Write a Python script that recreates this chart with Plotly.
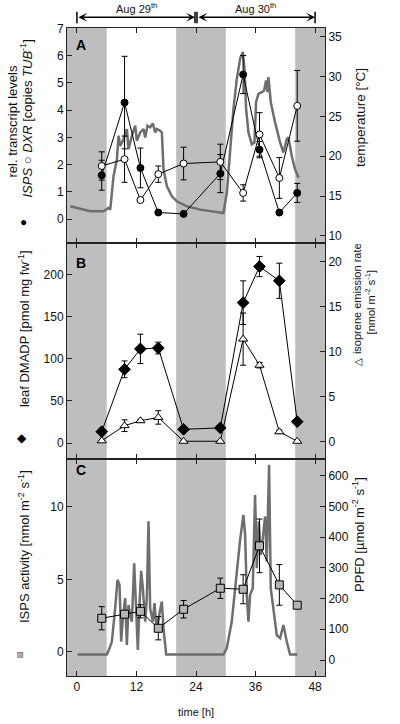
import plotly.graph_objects as go

# ---------------- data ----------------
t_samp = [5.0, 9.6, 12.8, 16.4, 21.5, 28.9, 33.5, 36.8, 40.8, 44.4]

isps_tr = [1.61, 4.28, 1.88, 0.24, 0.19, 1.67, 5.31, 2.55, 0.24, 0.96]
isps_tr_err = [0.55, 1.7, 0.73, 0, 0, 0.7, 0.7, 0.3, 0, 0.35]
dxr_tr = [1.95, 2.2, 0.70, 1.65, 2.04, 2.1, 0.96, 3.11, 1.51, 4.16]
dxr_tr_err = [0.52, 0.85, 0, 0.3, 0.6, 0.65, 0.3, 0.8, 0.75, 1.3]

temp_t = [-1.35, 0.66, 2.68, 5.36, 6.37, 6.71, 7.38, 8.06, 8.39, 8.72, 9.39, 10.07,
          10.4, 11.07, 11.75, 12.08, 12.75, 13.42, 13.76, 14.22, 14.76, 15.3, 15.77,
          16.1, 16.78, 17.12, 17.45, 18.13, 19.13, 20.14, 22.16, 24.84, 27.52, 29.53,
          30.21, 30.88, 31.55, 32.23, 32.9, 33.44, 33.77, 34.1, 34.57, 35.25, 35.78,
          36.11, 36.58, 37.26, 37.73, 38.13, 38.4, 38.6, 39.07, 39.94, 40.95, 41.62,
          42.3, 42.63, 43.3, 43.97, 44.65]
temp_v = [13.71, 13.37, 13.08, 13.08, 13.5, 13.29, 17.5, 19.61, 22.56, 21.3, 22.14, 23.41,
          20.88, 22.56, 23.83, 21.93, 22.98, 23.41, 22.35, 23.83, 23.62, 24.12, 22.98,
          23.41, 23.2, 22.98, 18.35, 16.24, 14.97, 14.34, 13.71, 13.29, 13.04, 12.87,
          15.4, 20.46, 25.94, 29.73, 32.26, 33.1, 31.0, 25.94, 22.98, 21.51, 21.72,
          26.78, 27.83, 28.04, 28.25, 29.52, 28.04, 29.94, 26.78, 24.25, 21.72, 20.46,
          22.14, 22.35, 20.03, 18.35, 17.29]

dmadp = [13.5, 87.7, 112, 113, 16.3, 18, 167, 210, 193, 25.4]
dmadp_err = [0, 10, 17.5, 7, 0, 0, 26, 12, 21, 0]
isoprene = [0.1, 1.78, 2.33, 2.7, 0.05, 0.05, 11.4, 8.5, 1.1, 0.05]
isoprene_err = [0, 0.65, 0.15, 0.75, 0, 0, 2.9, 0.3, 0.2, 0]

isps_act = [2.32, 2.6, 2.8, 1.63, 2.94, 4.39, 4.32, 7.31, 4.62, 3.22]
isps_act_err = [0.8, 0.2, 0.45, 0.8, 0.6, 0.7, 1.0, 1.85, 1.4, 0.15]

ppfd_t = [0.13, 6.04, 6.57, 7.04, 7.71, 8.18, 8.59, 8.92, 9.26, 9.73, 10.06, 10.4, 10.74,
          11.07, 11.54, 11.94, 12.28, 12.61, 12.95, 13.29, 13.76, 14.09, 14.43, 14.76,
          15.3, 15.64, 16.1, 16.64, 17.11, 17.45, 17.99, 29.53, 30.2, 31.21, 32.22, 32.89,
          33.56, 33.9, 34.23, 34.57, 34.9, 35.44, 35.91, 36.25, 36.65, 37.05, 37.46, 37.93,
          38.26, 38.73, 39.07, 39.6, 40.28, 40.95, 41.62, 42.29, 42.96, 44.44]
ppfd_v = [18, 18, 38, 60, 168, 261, 244, 60, 136, 201, 49, 179, 147,
          125, 315, 179, 33, 179, 290, 233, 125, 201, 451, 168,
          125, 185, 92, 152, 190, 103, 18, 18, 38, 125, 299, 391,
          472, 407, 212, 125, 212, 233, 537, 299, 451, 342, 396, 467,
          320, 635, 233, 168, 81, 71, 114, 60, 18, 18]

night_bands = [(-3, 6), (20, 30), (44, 52)]
x_ticks = [0, 12, 24, 36, 48]

# ---------------- styling ----------------
FONT = "Liberation Sans, Arial, sans-serif"
AX = "#222222"
BAND = "#bebebe"
LINEGRAY = "#6e6e6e"
dA, dB, dC = [0.6682, 1.0], [0.3349, 0.6682], [0.0, 0.3349]

fig = go.Figure()

eb = lambda arr: dict(type="data", array=arr, visible=True, color="black", thickness=1, width=3)

# Panel A
fig.add_trace(go.Scatter(x=temp_t, y=temp_v, xaxis="x", yaxis="y", mode="lines",
                         line=dict(color=LINEGRAY, width=2.5), showlegend=False))
fig.add_trace(go.Scatter(x=t_samp, y=isps_tr, xaxis="x", yaxis="y2", mode="lines+markers",
                         line=dict(color="black", width=1),
                         marker=dict(symbol="circle", size=7, color="black",
                                     line=dict(color="black", width=1)),
                         error_y=eb(isps_tr_err), showlegend=False))
fig.add_trace(go.Scatter(x=t_samp, y=dxr_tr, xaxis="x", yaxis="y2", mode="lines+markers",
                         line=dict(color="black", width=1),
                         marker=dict(symbol="circle", size=7, color="white",
                                     line=dict(color="black", width=1)),
                         error_y=eb(dxr_tr_err), showlegend=False))
# Panel B
fig.add_trace(go.Scatter(x=t_samp, y=dmadp, xaxis="x2", yaxis="y3", mode="lines+markers",
                         line=dict(color="black", width=1),
                         marker=dict(symbol="diamond", size=9, color="black",
                                     line=dict(color="black", width=1)),
                         error_y=eb(dmadp_err), showlegend=False))
fig.add_trace(go.Scatter(x=t_samp, y=isoprene, xaxis="x2", yaxis="y4", mode="lines+markers",
                         line=dict(color="black", width=1),
                         marker=dict(symbol="triangle-up", size=8, color="white",
                                     line=dict(color="black", width=1)),
                         error_y=eb(isoprene_err), showlegend=False))
# Panel C
fig.add_trace(go.Scatter(x=ppfd_t, y=ppfd_v, xaxis="x3", yaxis="y5", mode="lines",
                         line=dict(color=LINEGRAY, width=2.5), showlegend=False))
fig.add_trace(go.Scatter(x=t_samp, y=isps_act, xaxis="x3", yaxis="y6", mode="lines+markers",
                         line=dict(color="black", width=1),
                         marker=dict(symbol="square", size=8, color="#b4b4b4",
                                     line=dict(color="black", width=1)),
                         error_y=eb(isps_act_err), showlegend=False))

common = dict(showline=True, linecolor=AX, linewidth=1, ticks="inside", ticklen=5,
              tickcolor=AX, tickwidth=1, showgrid=False, zeroline=False,
              tickfont=dict(size=12, color="#111111", family=FONT))
xcommon = dict(common, range=[-2, 50], tickvals=x_ticks, mirror="ticks", domain=[0, 1])

fig.update_layout(
    width=400, height=724,
    margin=dict(l=67, r=75, t=28, b=48),
    paper_bgcolor="white", plot_bgcolor="white",
    font=dict(family=FONT, size=12, color="#111111"),
    xaxis=dict(xcommon, anchor="y", showticklabels=False),
    xaxis2=dict(xcommon, anchor="y3", showticklabels=False),
    xaxis3=dict(xcommon, anchor="y5", showticklabels=True),
    yaxis=dict(common, domain=dA, anchor="x", side="right", range=[9.1, 36.1],
               tickvals=[10, 15, 20, 25, 30, 35]),
    yaxis2=dict(common, anchor="x", overlaying="y", side="left", range=[-0.88, 7.02],
                tickvals=[0, 1, 2, 3, 4, 5, 6, 7]),
    yaxis3=dict(common, domain=dB, anchor="x2", side="left", range=[-19, 238],
                tickvals=[0, 50, 100, 150, 200]),
    yaxis4=dict(common, anchor="x2", overlaying="y3", side="right", range=[-1.92, 22.08],
                tickvals=[0, 5, 10, 15, 20]),
    yaxis5=dict(common, domain=dC, anchor="x3", side="right", range=[-52, 654],
                tickvals=[0, 100, 200, 300, 400, 500, 600]),
    yaxis6=dict(common, anchor="x3", overlaying="y5", side="left", range=[-1.66, 13.3],
                tickvals=[0, 5, 10]),
)

shapes = []
for xr, yr in [("x", "y domain"), ("x2", "y3 domain"), ("x3", "y5 domain")]:
    for a, b in night_bands:
        shapes.append(dict(type="rect", xref=xr, yref=yr, x0=a, x1=b, y0=0, y1=1,
                           fillcolor=BAND, line=dict(width=0), layer="below"))
# header bars
for xb in [0, 23.8, 24.2, 48]:
    shapes.append(dict(type="line", xref="x", yref="paper", x0=xb, x1=xb,
                       y0=1.0073, y1=1.0252, line=dict(color="black", width=1.5)))
fig.update_layout(shapes=shapes)

ann = []
# header arrows
for a, b in [(0, 23.8), (24.2, 48)]:
    ann.append(dict(x=b, y=1.0165, xref="x", yref="paper", ax=a, ay=0, axref="x",
                    ayref="pixel", text="", showarrow=True, arrowhead=3, arrowside="end+start",
                    arrowsize=1, arrowwidth=1.5, arrowcolor="black", standoff=0, startstandoff=0))
ann.append(dict(x=12, y=1.0316, xref="x", yref="paper", text="Aug 29<sup>th</sup>",
                showarrow=False, font=dict(size=11), yanchor="middle"))
ann.append(dict(x=36, y=1.0316, xref="x", yref="paper", text="Aug 30<sup>th</sup>",
                showarrow=False, font=dict(size=11), yanchor="middle"))
# panel letters
for letter, yr, yv in [("A", "y domain", 0.921), ("B", "y3 domain", 0.906), ("C", "y5 domain", 0.949)]:
    ann.append(dict(x=-0.5, y=yv, xref="x", yref=yr, text="<b>%s</b>" % letter,
                    showarrow=False, xanchor="left", yanchor="middle", font=dict(size=14, color="black")))


def vtitle(x, y, yref, text, size=13):
    ann.append(dict(x=x, y=y, xref="paper", yref=yref, textangle=-90, text=text,
                    showarrow=False, xanchor="center", yanchor="middle", font=dict(size=size)))


def sym(x, y, yref, text, size, color="black", angle=0):
    ann.append(dict(x=x, y=y, xref="paper", yref=yref, text=text, textangle=angle,
                    showarrow=False, xanchor="center", yanchor="middle",
                    font=dict(size=size, color=color)))


# left titles
vtitle(-0.2093, 0.565, "y domain", "rel. transcript levels")
vtitle(-0.1589, 0.579, "y domain",
       "<i>ISPS</i> \u25cb <i>DXR</i> [copies <i>TUB</i><sup>-1</sup>]")
sym(-0.1667, 0.098, "y domain", "\u25cf", 12)
vtitle(-0.1667, 0.606, "y3 domain", "leaf DMADP [pmol mg fw<sup>-1</sup>]")
sym(-0.174, 0.097, "y3 domain", "\u25c6", 12)
vtitle(-0.1667, 0.599, "y5 domain", "ISPS activity [nmol m<sup>-2</sup> s<sup>-1</sup>]")
sym(-0.182, 0.097, "y5 domain", "\u25a0", 10, "#a8a8a8")
sym(-0.182, 0.097, "y5 domain", "\u25a1", 10, "#333333")
# right titles
vtitle(1.1357, 0.581, "y domain", "temperature [\u00b0C]", size=13.5)
vtitle(1.124, 0.745, "y3 domain", "isoprene emission rate", size=11)
vtitle(1.176, 0.727, "y3 domain", "[nmol m<sup>-2</sup> s<sup>-1</sup>]", size=11)
sym(1.128, 0.45, "y3 domain", "\u25b3", 10, angle=-90)
vtitle(1.128, 0.65, "y5 domain", "PPFD [\u00b5mol m<sup>-2</sup> s<sup>-1</sup>]")
# x title
ann.append(dict(x=0.5, y=-0.0556, xref="paper", yref="paper", text="time [h]",
                showarrow=False, xanchor="center", yanchor="middle", font=dict(size=11)))
fig.update_layout(annotations=ann)

# remove the browser's default 8px body margin so the 400x724 figure fills the window
fig.write_html("out.html", config={"displayModeBar": False},
               post_script="document.body.style.margin='0px';")
